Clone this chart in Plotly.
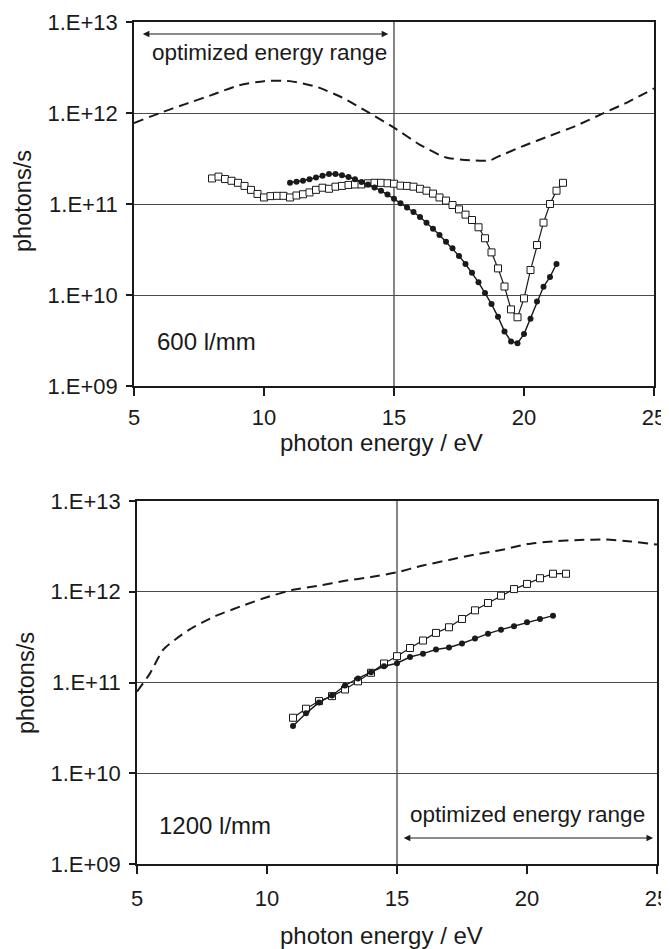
import plotly.graph_objects as go

# reference canvas and page offset (browser body margin)
W, H = 669, 949
OFF = 8
FW, FH = W - OFF, H - OFF

# ---------------- top panel: 600 l/mm ----------------
top_sq_x = [8.0, 8.25, 8.5, 8.75, 9.0, 9.25, 9.5, 9.75, 10.0, 10.25, 10.5, 10.75,
            11.0, 11.25, 11.5, 11.75, 12.0, 12.25, 12.5, 12.75, 13.0, 13.25, 13.5,
            13.75, 14.0, 14.25, 14.5, 14.75, 15.0, 15.25, 15.5, 15.75, 16.0, 16.25,
            16.5, 16.75, 17.0, 17.25, 17.5, 17.75, 18.0, 18.25, 18.5, 18.75, 19.0,
            19.25, 19.5, 19.75, 20.0, 20.25, 20.5, 20.75, 21.0, 21.25, 21.5]
top_sq_y = [1.91e11, 2.00e11, 1.88e11, 1.80e11, 1.71e11, 1.58e11, 1.43e11, 1.29e11,
            1.18e11, 1.22e11, 1.23e11, 1.23e11, 1.18e11, 1.24e11, 1.28e11, 1.34e11,
            1.43e11, 1.51e11, 1.47e11, 1.55e11, 1.58e11, 1.62e11, 1.64e11, 1.64e11,
            1.69e11, 1.71e11, 1.71e11, 1.69e11, 1.67e11, 1.59e11, 1.58e11, 1.55e11,
            1.47e11, 1.40e11, 1.30e11, 1.18e11, 1.09e11, 9.75e10, 8.73e10, 7.64e10,
            6.67e10, 5.55e10, 4.20e10, 2.94e10, 1.96e10, 1.24e10, 6.95e9, 5.69e9,
            9.18e9, 1.88e10, 3.54e10, 6.24e10, 1.00e11, 1.40e11, 1.71e11]

top_ci_x = [11.0, 11.25, 11.5, 11.75, 12.0, 12.25, 12.5, 12.75, 13.0, 13.25, 13.5,
            13.75, 14.0, 14.25, 14.5, 14.75, 15.0, 15.25, 15.5, 15.75, 16.0, 16.25,
            16.5, 16.75, 17.0, 17.25, 17.5, 17.75, 18.0, 18.25, 18.5, 18.75, 19.0,
            19.25, 19.5, 19.75, 20.0, 20.25, 20.5, 20.75, 21.0, 21.25]
top_ci_y = [1.71e11, 1.76e11, 1.80e11, 1.87e11, 1.95e11, 2.04e11, 2.14e11, 2.14e11,
            2.07e11, 1.98e11, 1.87e11, 1.75e11, 1.64e11, 1.52e11, 1.40e11, 1.27e11,
            1.14e11, 1.02e11, 9.18e10, 8.17e10, 7.19e10, 6.24e10, 5.36e10, 4.56e10,
            3.85e10, 3.26e10, 2.69e10, 2.19e10, 1.76e10, 1.38e10, 1.05e10, 7.94e9,
            5.75e9, 3.98e9, 3.09e9, 2.95e9, 3.72e9, 5.50e9, 8.51e9, 1.23e10, 1.58e10,
            2.19e10]

top_da_x = [5, 6, 7, 8, 9, 10, 11, 12, 13, 14, 15, 16, 17, 18, 18.7, 19, 20, 21,
            22, 23, 24, 25]
top_da_y = [7.76e11, 1.0e12, 1.26e12, 1.58e12, 2.0e12, 2.24e12, 2.24e12, 1.95e12,
            1.48e12, 1.02e12, 6.9e11, 4.47e11, 3.24e11, 3.02e11, 3.02e11, 3.31e11,
            4.37e11, 5.62e11, 7.24e11, 9.77e11, 1.32e12, 1.86e12]

# ---------------- bottom panel: 1200 l/mm ----------------
bot_sq_x = [11.0, 11.5, 12.0, 12.5, 13.0, 13.5, 14.0, 14.5, 15.0, 15.5, 16.0, 16.5,
            17.0, 17.5, 18.0, 18.5, 19.0, 19.5, 20.0, 20.5, 21.0, 21.5]
bot_sq_y = [4.09e10, 5.14e10, 6.24e10, 7.08e10, 8.38e10, 1.03e11, 1.28e11, 1.62e11,
            1.95e11, 2.40e11, 2.90e11, 3.52e11, 4.06e11, 5.01e11, 6.24e11, 7.52e11,
            9.04e11, 1.07e12, 1.22e12, 1.41e12, 1.58e12, 1.58e12]

bot_ci_x = [11.0, 11.5, 12.0, 12.5, 13.0, 13.5, 14.0, 14.5, 15.0, 15.5, 16.0, 16.5,
            17.0, 17.5, 18.0, 18.5, 19.0, 19.5, 20.0, 20.5, 21.0]
bot_ci_y = [3.31e10, 4.57e10, 6.03e10, 7.19e10, 9.27e10, 1.11e11, 1.30e11, 1.51e11,
            1.63e11, 1.91e11, 2.08e11, 2.31e11, 2.43e11, 2.69e11, 3.05e11, 3.45e11,
            3.82e11, 4.16e11, 4.60e11, 5.01e11, 5.45e11]

bot_da_x = [5, 5.5, 6, 6.5, 7, 7.5, 8, 9, 10, 11, 12, 13, 14, 15, 16, 17, 18, 19,
            20, 21, 22, 23, 24, 25]
bot_da_y = [7.94e10, 1.26e11, 2.29e11, 3.02e11, 3.80e11, 4.57e11, 5.37e11, 6.92e11,
            8.71e11, 1.05e12, 1.17e12, 1.32e12, 1.45e12, 1.64e12, 1.95e12, 2.24e12,
            2.57e12, 2.88e12, 3.35e12, 3.59e12, 3.72e12, 3.76e12, 3.59e12, 3.31e12]

y_tick_vals = [1e9, 1e10, 1e11, 1e12, 1e13]
y_tick_text = ["1.E+09", "1.E+10", "1.E+11", "1.E+12", "1.E+13"]
x_tick_vals = [5, 10, 15, 20, 25]
x_tick_text = ["5", "10", "15", "20", "25"]

x_title = "photon energy / eV"
y_title = "photons/s"
range_label = "optimized energy range"

FONT = "Liberation Sans, Arial, sans-serif"
INK = "#1a1a1a"


def fx(px):
    return (px - OFF) / FW


def fy(py):
    return 1 - (py - OFF) / FH


fig = go.Figure()


def add_panel(xa, ya, da_x, da_y, sq_x, sq_y, ci_x, ci_y):
    fig.add_trace(go.Scatter(x=da_x, y=da_y, mode="lines", xaxis=xa, yaxis=ya,
                             line=dict(color=INK, width=2, dash="10px,6px",
                                       shape="spline", smoothing=0.6),
                             hoverinfo="skip", showlegend=False))
    fig.add_trace(go.Scatter(x=sq_x, y=sq_y, mode="lines+markers", xaxis=xa, yaxis=ya,
                             line=dict(color=INK, width=1.2),
                             marker=dict(symbol="square", size=7, color="white",
                                         line=dict(color=INK, width=1)),
                             showlegend=False))
    fig.add_trace(go.Scatter(x=ci_x, y=ci_y, mode="lines+markers", xaxis=xa, yaxis=ya,
                             line=dict(color=INK, width=1.4),
                             marker=dict(symbol="circle", size=6, color=INK),
                             showlegend=False))


add_panel("x", "y", top_da_x, top_da_y, top_sq_x, top_sq_y, top_ci_x, top_ci_y)
add_panel("x2", "y2", bot_da_x, bot_da_y, bot_sq_x, bot_sq_y, bot_ci_x, bot_ci_y)


def xaxis_style(standoff):
    return dict(range=[5, 25], tickvals=x_tick_vals, ticktext=x_tick_text,
                ticks="outside", ticklen=8, tickwidth=1.5, tickcolor=INK,
                showgrid=False, zeroline=False, showline=True, mirror=True,
                linecolor=INK, linewidth=1.6, ticklabelstandoff=standoff,
                ticklabeloverflow="allow",
                tickfont=dict(family=FONT, size=22, color=INK))


yaxis_common = dict(type="log", range=[9, 13], tickvals=y_tick_vals, ticktext=y_tick_text,
                    ticks="outside", ticklen=6, tickwidth=1.5, tickcolor=INK,
                    showgrid=True, gridcolor="#4a4a4a", gridwidth=1, zeroline=False,
                    showline=True, mirror=True, linecolor=INK, linewidth=1.6,
                    ticklabelstandoff=4, ticklabeloverflow="allow",
                    tickfont=dict(family=FONT, size=22, color=INK))

fig.update_layout(
    width=FW, height=FH, margin=dict(l=0, r=0, t=0, b=0, autoexpand=False),
    paper_bgcolor="white", plot_bgcolor="white",
    xaxis=dict(domain=[fx(134), fx(654)], anchor="y", **xaxis_style(3)),
    yaxis=dict(domain=[fy(386), fy(22)], anchor="x", **yaxis_common),
    xaxis2=dict(domain=[fx(137), fx(657)], anchor="y2", **xaxis_style(6)),
    yaxis2=dict(domain=[fy(864), fy(501)], anchor="x2", **yaxis_common),
)

# vertical reference lines at 15 eV
for xr, yr in (("x", "y domain"), ("x2", "y2 domain")):
    fig.add_shape(type="line", xref=xr, yref=yr, x0=15, x1=15, y0=0, y1=1,
                  line=dict(color="#333333", width=1.2), layer="below")

ann = []
# axis titles
for ty in (443, 935):
    ann.append(dict(text=x_title, xref="paper", yref="paper", x=fx(381), y=fy(ty),
                    xanchor="center", yanchor="middle", showarrow=False,
                    font=dict(family=FONT, size=24, color=INK)))
for tx, ty in ((23, 201), (26, 683)):
    ann.append(dict(text=y_title, xref="paper", yref="paper", x=fx(tx), y=fy(ty),
                    xanchor="center", yanchor="middle", showarrow=False, textangle=-90,
                    font=dict(family=FONT, size=23.5, color=INK)))

# panel labels
ann.append(dict(text="600 l/mm", xref="x", yref="y domain", x=5.81, y=0.122,
                xanchor="left", yanchor="middle", showarrow=False,
                font=dict(family=FONT, size=24, color=INK)))
ann.append(dict(text="1200 l/mm", xref="x2", yref="y2 domain", x=5.77, y=0.107,
                xanchor="left", yanchor="middle", showarrow=False,
                font=dict(family=FONT, size=24, color=INK)))

# optimized energy range text + double arrows
ann.append(dict(text=range_label, xref="x", yref="y domain", x=10.22, y=0.915,
                xanchor="center", yanchor="middle", showarrow=False,
                font=dict(family=FONT, size=22.5, color=INK)))
ann.append(dict(text="", xref="x", yref="y domain", x=14.78, y=0.967,
                axref="x", ayref="y domain", ax=5.28, ay=0.967,
                showarrow=True, arrowside="end+start", arrowhead=2, arrowsize=1.1,
                arrowwidth=1.2, arrowcolor=INK, standoff=0, startstandoff=0))
ann.append(dict(text=range_label, xref="x2", yref="y2 domain", x=20.0, y=0.135,
                xanchor="center", yanchor="middle", showarrow=False,
                font=dict(family=FONT, size=22.5, color=INK)))
ann.append(dict(text="", xref="x2", yref="y2 domain", x=24.85, y=0.0716,
                axref="x2", ayref="y2 domain", ax=15.2, ay=0.0716,
                showarrow=True, arrowside="end+start", arrowhead=2, arrowsize=1.1,
                arrowwidth=1.2, arrowcolor=INK, standoff=0, startstandoff=0))

fig.update_layout(annotations=ann)

fig.write_html("out.html")
